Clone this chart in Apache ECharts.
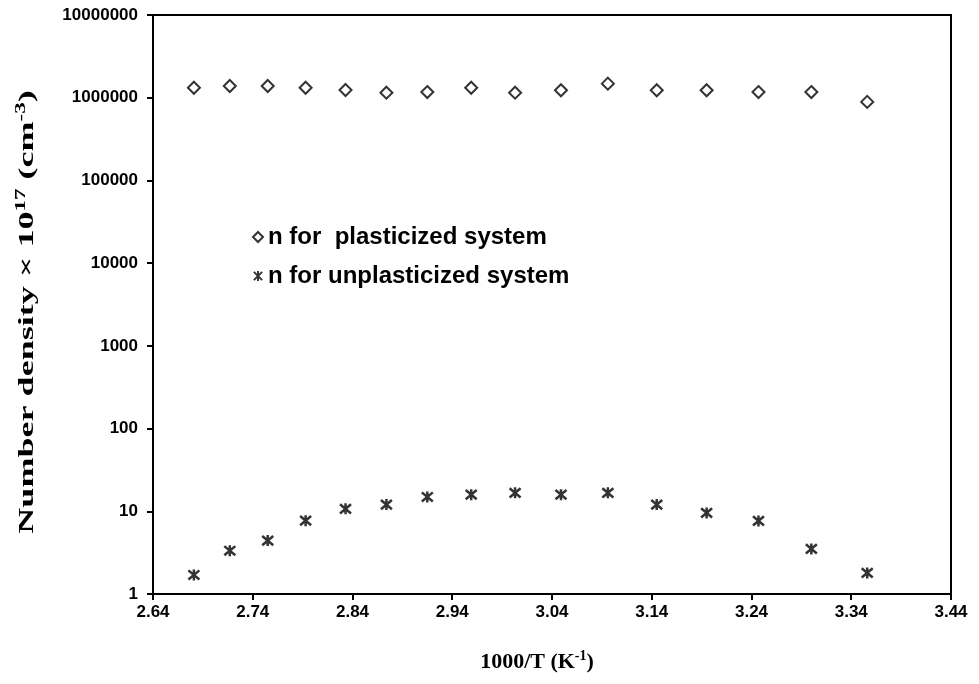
<!DOCTYPE html>
<html>
<head>
<meta charset="utf-8">
<script src="https://cdn.jsdelivr.net/npm/echarts@6/dist/echarts.min.js"></script>
<style>
  html, body { margin: 0; padding: 0; background: #fff; }
  #chart { width: 979px; height: 684px; }
</style>
</head>
<body>
<div id="chart"></div>
<script>
// Inverse temperature, 1000/T (K^-1), for T = 373 ... 298 K
const invT = [2.681, 2.717, 2.755, 2.793, 2.833, 2.874, 2.915, 2.959,
              3.003, 3.049, 3.096, 3.145, 3.195, 3.247, 3.300, 3.356];

// Number density x 10^17 (cm^-3)
const plasticized = [1.32e6, 1.385e6, 1.385e6, 1.32e6, 1.24e6, 1.15e6, 1.17e6, 1.32e6,
                     1.15e6, 1.23e6, 1.48e6, 1.23e6, 1.23e6, 1.17e6, 1.17e6, 0.89e6];
const unplasticized = [1.70, 3.34, 4.42, 7.71, 10.7, 12.05, 14.9, 15.9,
                       16.7, 15.9, 16.7, 12.05, 9.56, 7.65, 3.51, 1.80];

const seriesNames = ['n for  plasticized system', 'n for unplasticized system'];
const xTicks = { min: 2.64, max: 3.44, step: 0.1 };
const yTicks = { min: 1, max: 10000000 };

const pair = (xs, ys) => xs.map((x, i) => [x, ys[i]]);

// asterisk marker: X with a vertical stroke
const asterisk = 'path://M0,0L10,10M10,0L0,10M5,-1L5,11';

const chart = echarts.init(document.getElementById('chart'), null, { renderer: 'canvas' });

const sansBold = { fontFamily: 'Liberation Sans, Arial, sans-serif', fontWeight: 'bold', color: '#000' };
const serifBold = { fontFamily: 'Liberation Serif, Times New Roman, serif', fontWeight: 'bold', color: '#000' };
const serifFont = 'Liberation Serif, Times New Roman, serif';

chart.setOption({
  backgroundColor: '#fff',
  animation: false,
  grid: {
    left: 153, right: 28, top: 15, bottom: 90,
    show: true, borderColor: '#000', borderWidth: 2, backgroundColor: 'transparent'
  },
  legend: {
    orient: 'vertical',
    left: 252,
    top: 224,
    padding: 0,
    itemGap: 13,
    itemWidth: 10,
    itemHeight: 10,
    textStyle: Object.assign({ fontSize: 24, lineHeight: 26 }, sansBold),
    data: seriesNames
  },
  xAxis: {
    type: 'value',
    min: xTicks.min,
    max: xTicks.max,
    interval: xTicks.step,
    splitLine: { show: false },
    axisLine: { lineStyle: { color: '#000', width: 2 } },
    axisTick: { inside: false, length: 6, lineStyle: { color: '#000', width: 2 } },
    axisLabel: Object.assign({ fontSize: 17, margin: 10, formatter: v => v.toFixed(2) }, sansBold),
    name: '{b|1000/T (K}{sup|-1}{b|)}',
    nameLocation: 'middle',
    nameGap: 55,
    nameTextStyle: {
      padding: [0, 30, 0, 0],
      rich: {
        b: Object.assign({ fontSize: 22, lineHeight: 26 }, serifBold),
        sup: Object.assign({ fontSize: 14, lineHeight: 14, verticalAlign: 'top', padding: [0, 0, 10, 0] }, serifBold)
      }
    }
  },
  yAxis: {
    type: 'log',
    logBase: 10,
    min: yTicks.min,
    max: yTicks.max,
    splitLine: { show: false },
    minorTick: { show: false },
    axisLine: { lineStyle: { color: '#000', width: 2 } },
    axisTick: { inside: false, length: 6, lineStyle: { color: '#000', width: 2 } },
    axisLabel: Object.assign({ fontSize: 17, margin: 15, formatter: v => String(Math.round(v)) }, sansBold)
  },
  // y-axis title, drawn as a stretched rotated text block
  graphic: [
    {
      type: 'text',
      x: 27,
      y: 312,
      rotation: Math.PI / 2,
      scaleX: 1.64,
      scaleY: 1,
      style: {
        text: '{b|Number density × 10}{sup|17}{b| (cm}{sup|-3}{b|)}',
        align: 'center',
        verticalAlign: 'middle',
        rich: {
          b: { font: 'bold 22px ' + serifFont, fill: '#000', lineHeight: 26 },
          sup: { font: 'bold 14px ' + serifFont, fill: '#000', lineHeight: 14, verticalAlign: 'top', padding: [0, 0, 10, 0] }
        }
      }
    }
  ],
  series: [
    {
      name: seriesNames[0],
      type: 'scatter',
      symbol: 'diamond',
      symbolSize: 12,
      itemStyle: { color: '#fff', borderColor: '#000', borderWidth: 2 },
      data: pair(invT, plasticized)
    },
    {
      name: seriesNames[1],
      type: 'scatter',
      symbol: asterisk,
      symbolSize: 11,
      itemStyle: { color: '#000', borderColor: '#000', borderWidth: 2.5 },
      data: pair(invT, unplasticized)
    }
  ]
});
</script>
</body>
</html>
